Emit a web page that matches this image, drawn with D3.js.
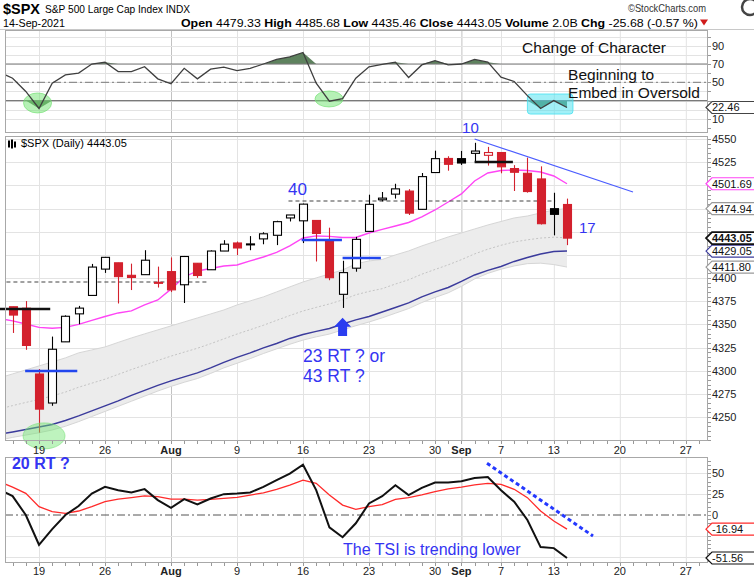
<!DOCTYPE html>
<html><head><meta charset="utf-8">
<script src="https://cdn.jsdelivr.net/npm/d3@7"></script>
<style>body{margin:0;background:#fff} svg{display:block} text{font-family:"Liberation Sans",Arial,sans-serif}</style>
</head><body><svg id="c" width="754" height="577"></svg>
<script>
// ---------------- DATA ----------------
const dates = ["2021-07-14","2021-07-15","2021-07-16","2021-07-19","2021-07-20","2021-07-21","2021-07-22","2021-07-23","2021-07-26","2021-07-27","2021-07-28","2021-07-29","2021-07-30","2021-08-02","2021-08-03","2021-08-04","2021-08-05","2021-08-06","2021-08-09","2021-08-10","2021-08-11","2021-08-12","2021-08-13","2021-08-16","2021-08-17","2021-08-18","2021-08-19","2021-08-20","2021-08-23","2021-08-24","2021-08-25","2021-08-26","2021-08-27","2021-08-30","2021-08-31","2021-09-01","2021-09-02","2021-09-03","2021-09-07","2021-09-08","2021-09-09","2021-09-10","2021-09-13","2021-09-14"];
const openP  = [4380.1,4369.0,4367.4,4296.4,4265.1,4331.1,4361.3,4381.2,4409.6,4416.4,4402.9,4403.6,4395.1,4406.9,4392.7,4415.9,4408.9,4429.1,4437.8,4435.8,4442.2,4446.1,4464.8,4461.7,4462.1,4440.9,4382.4,4410.6,4450.3,4484.4,4490.5,4493.8,4474.1,4513.8,4529.0,4528.8,4534.5,4532.4,4535.4,4518.1,4513.0,4506.9,4474.8,4479.33];
const highP  = [4383.1,4369.0,4375.1,4301.8,4336.8,4359.7,4369.9,4415.2,4422.7,4416.4,4415.5,4430.0,4412.3,4422.2,4423.8,4416.2,4429.8,4440.8,4439.4,4445.2,4449.4,4461.8,4468.0,4480.3,4462.1,4454.3,4418.6,4444.4,4489.9,4492.8,4501.7,4495.9,4513.3,4537.4,4531.4,4537.1,4545.9,4541.5,4535.4,4521.8,4529.9,4520.5,4492.0,4485.68];
const lowP   = [4356.2,4340.7,4322.5,4233.1,4262.1,4331.1,4350.1,4381.2,4405.5,4372.5,4387.0,4403.6,4389.7,4384.8,4373.0,4400.2,4408.9,4429.1,4424.7,4430.0,4436.4,4435.5,4461.0,4437.7,4417.8,4397.6,4367.7,4406.8,4450.3,4482.7,4485.7,4468.0,4474.1,4513.8,4515.8,4522.0,4524.7,4521.3,4513.0,4493.9,4492.1,4457.7,4446.0,4435.46];
const closeP = [4374.3,4360.0,4327.2,4258.5,4323.1,4358.7,4367.5,4411.8,4422.3,4401.5,4400.6,4419.2,4395.3,4387.2,4423.2,4402.7,4429.1,4436.5,4432.4,4436.8,4447.7,4460.8,4468.0,4479.7,4448.1,4400.3,4405.8,4441.7,4479.5,4486.2,4496.2,4470.0,4509.4,4528.8,4522.7,4524.1,4537.0,4535.4,4520.0,4514.1,4493.3,4458.6,4468.7,4443.05];
const pinkMA    = [4356.4,4353.7,4350.4,4346.7,4345.8,4346.7,4349.9,4354.2,4358.5,4362.3,4364.5,4370.9,4376.3,4388.0,4401.1,4407.6,4410.3,4413.0,4414.1,4418.4,4422.7,4427.6,4434.6,4443.2,4445.4,4444.9,4443.7,4443.7,4448.6,4452.4,4456.1,4459.9,4465.9,4473.4,4482.0,4490.7,4504.7,4513.3,4516.0,4516.6,4516.0,4514.4,4510.1,4501.69];
const bandUpper = [4292.2,4296.5,4300.8,4305.1,4309.4,4313.8,4319.2,4322.4,4325.6,4330.5,4335.3,4339.7,4344.0,4348.3,4352.6,4356.9,4361.2,4365.5,4370.9,4375.3,4379.6,4385.0,4390.4,4395.7,4400.1,4404.4,4408.7,4415.2,4418.4,4420.0,4424.9,4429.2,4434.6,4439.4,4444.3,4448.6,4452.9,4457.2,4461.0,4464.8,4466.9,4470.2,4473.4,4474.94];
const bandMid   = [4258.6,4262.3,4265.7,4269.0,4272.7,4276.9,4282.1,4286.5,4290.8,4296.0,4301.2,4306.1,4311.0,4315.7,4320.0,4324.2,4329.1,4334.3,4339.5,4344.2,4349.0,4354.3,4359.5,4364.4,4368.3,4372.0,4376.4,4381.9,4385.5,4388.5,4393.5,4398.1,4404.1,4409.2,4414.2,4419.8,4426.0,4431.1,4435.3,4438.9,4441.2,4443.1,4444.0,4443.4];
const bandLower = [4225.0,4228.0,4230.5,4233.0,4236.0,4240.0,4245.0,4250.5,4256.0,4261.5,4267.0,4272.5,4278.0,4283.0,4287.5,4291.5,4297.0,4303.0,4308.0,4313.0,4318.5,4323.5,4328.5,4333.0,4336.5,4339.5,4344.0,4348.5,4352.5,4357.0,4362.0,4367.0,4373.5,4379.0,4384.0,4391.0,4399.0,4405.0,4409.5,4413.0,4415.5,4416.0,4414.5,4411.80];
const navyMA    = [4231.2,4233.9,4236.6,4239.3,4242.0,4246.3,4251.2,4256.6,4262.0,4267.4,4273.3,4278.7,4284.1,4289.0,4293.3,4297.6,4303.0,4308.9,4314.3,4319.2,4324.6,4329.4,4334.8,4339.1,4342.4,4345.6,4350.4,4354.8,4358.5,4363.4,4368.2,4373.1,4379.6,4385.0,4389.8,4396.3,4403.3,4408.2,4412.5,4417.9,4422.2,4426.0,4428.6,4429.05];
const rsiVals   = [61,54.5,40,21.4,49,58,60,70,72,61.7,61.7,67,53.8,48.4,65.3,53.8,64.3,66.5,62.8,65.3,70,75,77.9,82.6,49,29.3,32.2,54.5,67,69.7,72,55.2,69,73.6,69,70,75,72,55.6,50.9,35.4,21.4,30,22.46];
const tsiVals   = [30.5,22.6,0,-35.7,-17,0,10.7,25.8,33.7,29.8,27,31,17.9,8.7,19,12.7,19.8,25,25.8,27,33.7,41.7,49.6,60.3,29.8,-14.7,-26.6,-9.9,13.9,22.6,35.7,23.8,32.5,38.9,38.9,40.5,44.4,45.6,29.8,15.9,-6,-38.5,-39.7,-51.56];
const tsiSignal = [40,33.5,26,10,4,2,4.8,10,16,19,20.8,22.9,22,19,19,17.9,18.8,20,21.2,23.9,26.6,30.6,35.8,41.8,38,23.9,11.9,6.8,10,12.5,18.8,20.8,24,28,31.2,33.3,36,38,36.8,30.8,20.8,4.8,-7.2,-16.94];

const xTickIdx    = [0,5,10,15,20,25,30,32,35,39,44,49];
const xTickLabels = ["19","26","Aug","9","16","23","30","Sep","7","13","20","27"];
const monthTicks  = ["Aug","Sep"];
const priceTicks  = [4250,4275,4300,4325,4350,4375,4400,4425,4450,4475,4500,4525,4550];
const rsiTicks    = [90,70,50,30,10];
const tsiTicks    = [50,25,0,-25,-50];

// ---------------- SETUP ----------------
const svg = d3.select("#c");
const L = 5, R = 708;
const P = {rsi:[30,133], main:[136,441], tsi:[457,563]};
const idxOf = k => k - 3;
const N = dates.length;
const x  = d3.scaleLinear().domain([0,49]).range([39,685.8]);
const yR = d3.scaleLinear().domain([10,90]).range([118.9,45.7]);
const yP = d3.scaleLinear().domain([4250,4550]).range([417,139]);
const yT = d3.scaleLinear().domain([-50,50]).range([556.7,473.3]);
const BLUE = "#3434f2";

const defs = svg.append("defs");
Object.entries(P).forEach(([k,[t,b]])=>{
  defs.append("clipPath").attr("id","clip-"+k).append("rect").attr("x",L).attr("y",t).attr("width",R-L).attr("height",b-t);
});

// header
const hdr = svg.append("g");
hdr.append("text").attr("x",3).attr("y",13.5).attr("font-size",15).attr("font-weight","bold")
  .attr("textLength",37).attr("lengthAdjust","spacingAndGlyphs").text("$SPX");
hdr.append("text").attr("x",45).attr("y",13).attr("font-size",11).attr("textLength",145).attr("lengthAdjust","spacingAndGlyphs").text("S&P 500 Large Cap Index INDX");
hdr.append("text").attr("x",3).attr("y",27).attr("font-size",11).attr("textLength",62).attr("lengthAdjust","spacingAndGlyphs").text("14-Sep-2021");
hdr.append("text").attr("x",628).attr("y",12).attr("font-size",11).attr("fill","#333").attr("textLength",78).attr("lengthAdjust","spacingAndGlyphs").text("\u00A9StockCharts.com");
const st = hdr.append("text").attr("x",181).attr("y",26.5).attr("font-size",11).attr("textLength",517).attr("lengthAdjust","spacingAndGlyphs");
[["Open",1],[" 4479.33 ",0],["High",1],[" 4485.68 ",0],["Low",1],[" 4435.46 ",0],["Close",1],[" 4443.05 ",0],["Volume",1],[" 2.0B ",0],["Chg",1],[" -25.68 (-0.57 %)",0]]
  .forEach(([t,b])=>st.append("tspan").attr("font-weight",b?"bold":"normal").text(t));
hdr.append("path").attr("d","M700,19.5L708,19.5L704,25.5Z").attr("fill","#d01c1c");
hdr.append("circle").attr("cx",750).attr("cy",7).attr("r",8).attr("fill","none").attr("stroke","#444").attr("stroke-width",2.5);
svg.append("line").attr("x1",0).attr("x2",754).attr("y1",29.5).attr("y2",29.5).attr("stroke","#c8c8c8");

// panels, grids
function panelFrame(key, yScale, hTicks){
  const [t,b] = P[key];
  const g = svg.append("g");
  g.append("rect").attr("x",L).attr("y",t).attr("width",R-L).attr("height",b-t).attr("fill","#fff");
  g.selectAll("line.v").data(xTickIdx).join("line")
    .attr("x1",d=>x(d)+0.5).attr("x2",d=>x(d)+0.5).attr("y1",t).attr("y2",b)
    .attr("stroke",(d,i)=>monthTicks.includes(xTickLabels[i])?"#c2c2c2":"#e3e3e3");
  g.selectAll("line.h").data(hTicks).join("line")
    .attr("x1",L).attr("x2",R).attr("y1",d=>Math.round(yScale(d))+0.5).attr("y2",d=>Math.round(yScale(d))+0.5)
    .attr("stroke","#e3e3e3");
  return g;
}
panelFrame("rsi", yR, [10,20,30,40,50,60,70,80,90,100]);
panelFrame("main", yP, d3.range(4225,4560,25));
panelFrame("tsi", yT, [50,25,-25,-50]);

// ---------------- RSI PANEL ----------------
const gR = svg.append("g").attr("clip-path","url(#clip-rsi)");
const rsiPts = rsiVals.map((v,k)=>({i:idxOf(k),v}));
gR.append("path").datum(rsiPts).attr("fill","#5e825e")
  .attr("d",d3.area().x(d=>x(d.i)).y0(yR(70)).y1(d=>yR(Math.max(70,d.v))));
gR.append("path").datum(rsiPts).attr("fill","#5e825e")
  .attr("d",d3.area().x(d=>x(d.i)).y0(yR(30)).y1(d=>yR(Math.min(30,d.v))));
[70,30].forEach(v=>gR.append("line").attr("x1",L).attr("x2",R).attr("y1",yR(v)).attr("y2",yR(v)).attr("stroke","#7a7a7a").attr("stroke-width",1.2));
gR.append("line").attr("x1",L).attr("x2",R).attr("y1",yR(50)).attr("y2",yR(50)).attr("stroke","#7a7a7a").attr("stroke-dasharray","8,3,2,3");
const rsiEll = [{i:-0.11,v:27.4,rx:14,ry:10},{i:21.97,v:31.8,rx:14,ry:8}];
gR.selectAll("ellipse").data(rsiEll).join("ellipse").attr("cx",d=>x(d.i)).attr("cy",d=>yR(d.v)).attr("rx",d=>d.rx).attr("ry",d=>d.ry)
  .attr("fill","rgba(110,228,110,0.5)").attr("stroke","rgba(120,225,120,0.7)");
const rsiBox = {i0:37.0,i1:40.45,v0:37.2,v1:15.3};
gR.append("rect").attr("x",x(rsiBox.i0)).attr("y",yR(rsiBox.v0)).attr("width",x(rsiBox.i1)-x(rsiBox.i0)).attr("height",yR(rsiBox.v1)-yR(rsiBox.v0))
  .attr("rx",3).attr("fill","rgba(70,225,240,0.5)").attr("stroke","rgba(70,225,240,0.8)");
gR.append("path").datum(rsiPts).attr("fill","none").attr("stroke","#3f3f3f").attr("stroke-width",1.3)
  .attr("d",d3.line().x(d=>x(d.i)).y(d=>yR(d.v)));

// ---------------- MAIN PANEL ----------------
const gM = svg.append("g").attr("clip-path","url(#clip-main)");
const pts = dates.map((d,k)=>({i:idxOf(k),o:openP[k],h:highP[k],l:lowP[k],c:closeP[k],pc:k>0?closeP[k-1]:openP[k],
  up:bandUpper[k],mid:bandMid[k],lo:bandLower[k],pink:pinkMA[k],navy:navyMA[k]}));
gM.append("path").datum(pts).attr("fill","#ececec").attr("stroke","none")
  .attr("d",d3.area().x(d=>x(d.i)).y0(d=>yP(d.lo)).y1(d=>yP(d.up)));
gM.append("path").datum(pts).attr("fill","none").attr("stroke","#d6d6d6").attr("d",d3.line().x(d=>x(d.i)).y(d=>yP(d.up)));
gM.append("path").datum(pts).attr("fill","none").attr("stroke","#d6d6d6").attr("d",d3.line().x(d=>x(d.i)).y(d=>yP(d.lo)));
gM.append("path").datum(pts).attr("fill","none").attr("stroke","#c4c4c4").attr("stroke-dasharray","2,2").attr("d",d3.line().x(d=>x(d.i)).y(d=>yP(d.mid)));
gM.append("path").datum(pts).attr("fill","none").attr("stroke","#3b3b9c").attr("stroke-width",1.5).attr("d",d3.line().x(d=>x(d.i)).y(d=>yP(d.navy)));
gM.append("path").datum(pts).attr("fill","none").attr("stroke","#ff45f5").attr("stroke-width",1.4).attr("d",d3.line().x(d=>x(d.i)).y(d=>yP(d.pink)));

const dashedLevels = [{i0:-3,i1:12.7,p:4395.7},{i0:18.9,i1:39.1,p:4483.1}];
gM.selectAll("line.dl").data(dashedLevels).join("line").attr("x1",d=>x(d.i0)).attr("x2",d=>x(d.i1)).attr("y1",d=>yP(d.p)).attr("y2",d=>yP(d.p))
  .attr("stroke","#444").attr("stroke-width",1.1).attr("stroke-dasharray","4,3");
const levelLines = [{i0:-3.2,i1:0.85,p:4366.6,c:"#111"},{i0:-1.05,i1:2.9,p:4299.7,c:"#2246ee"},{i0:19.9,i1:22.95,p:4441,c:"#2246ee"},{i0:23.0,i1:25.9,p:4421.6,c:"#2246ee"},{i0:33.0,i1:35.9,p:4525.2,c:"#111"}];
svg.selectAll("line.lv").data(levelLines).join("line").attr("x1",d=>x(d.i0)).attr("x2",d=>x(d.i1)).attr("y1",d=>yP(d.p)).attr("y2",d=>yP(d.p))
  .attr("stroke",d=>d.c).attr("stroke-width",2.4);

const cw = 8;
const col = d => d.c < d.pc ? "#d3212d" : "#000";
const cg = gM.selectAll("g.cdl").data(pts).join("g");
cg.append("line").attr("x1",d=>Math.round(x(d.i))+0.5).attr("x2",d=>Math.round(x(d.i))+0.5).attr("y1",d=>yP(d.h)).attr("y2",d=>yP(d.l)).attr("stroke",col).attr("stroke-width",1.1);
cg.append("rect").attr("x",d=>Math.round(x(d.i))-cw/2+0.5).attr("width",cw)
  .attr("y",d=>yP(Math.max(d.o,d.c))).attr("height",d=>Math.max(1,Math.abs(yP(d.o)-yP(d.c))))
  .attr("fill",d=>d.c<d.o?col(d):"#fff").attr("stroke",col).attr("stroke-width",1.1);

const trend = [{i:33,p:4550},{i:45,p:4492.8}];
svg.append("line").attr("x1",x(trend[0].i)).attr("y1",yP(trend[0].p)).attr("x2",x(trend[1].i)).attr("y2",yP(trend[1].p)).attr("stroke","#4a5cff").attr("stroke-width",1.2);

const arrow = {i:23, pTop:4357, pBot:4337.5};
{
  const ax = x(arrow.i), at = yP(arrow.pTop), ab = yP(arrow.pBot);
  svg.append("path").attr("d",`M${ax},${at}L${ax+8.5},${at+9}L${ax+4.5},${at+9}L${ax+4.5},${ab}L${ax-4.5},${ab}L${ax-4.5},${at+9}L${ax-8.5},${at+9}Z`).attr("fill","#2a3df0");
}
const mainEll = {i:0.38,p:4229.6,rx:21,ry:13};
svg.append("ellipse").attr("cx",x(mainEll.i)).attr("cy",yP(mainEll.p)).attr("rx",mainEll.rx).attr("ry",mainEll.ry)
  .attr("fill","rgba(110,228,110,0.45)").attr("stroke","rgba(120,225,120,0.6)");

{
  const lg = svg.append("g");
  [[9,141,147],[12,140,148],[15,142,147]].forEach(([xx,a,b])=>{
    lg.append("line").attr("x1",xx).attr("x2",xx).attr("y1",a-1).attr("y2",b+1).attr("stroke","#000");
    lg.append("rect").attr("x",xx-1).attr("y",a).attr("width",2).attr("height",b-a).attr("fill","#000");
  });
  lg.append("text").attr("x",21).attr("y",147).attr("font-size",11).attr("font-family","DejaVu Sans").text("$SPX (Daily) 4443.05");
}

// ---------------- TSI PANEL ----------------
const gT = svg.append("g").attr("clip-path","url(#clip-tsi)");
gT.append("line").attr("x1",L).attr("x2",R).attr("y1",yT(0)).attr("y2",yT(0)).attr("stroke","#555").attr("stroke-dasharray","8,3,2,3");
const tPts = tsiVals.map((v,k)=>({i:idxOf(k),v,s:tsiSignal[k]}));
gT.append("path").datum(tPts).attr("fill","none").attr("stroke","#ff2a2a").attr("stroke-width",1.3).attr("d",d3.line().x(d=>x(d.i)).y(d=>yT(d.s)));
gT.append("path").datum(tPts).attr("fill","none").attr("stroke","#111").attr("stroke-width",2).attr("d",d3.line().x(d=>x(d.i)).y(d=>yT(d.v)));
const tsiTrend = [{i:33.94,v:62},{i:41.97,v:-25.2}];
gT.append("line").attr("x1",x(tsiTrend[0].i)).attr("y1",yT(tsiTrend[0].v)).attr("x2",x(tsiTrend[1].i)).attr("y2",yT(tsiTrend[1].v))
  .attr("stroke","#2438ff").attr("stroke-width",3).attr("stroke-dasharray","4,3");

Object.values(P).forEach(([t,b])=>svg.append("rect").attr("x",L+0.5).attr("y",t+0.5).attr("width",R-L-1).attr("height",b-t-1).attr("fill","none").attr("stroke","#a8a8a8"));

// ---------------- AXES ----------------
const last = N-1;
const tagsR = [{v:rsiVals[last],c:"#444"}];
const tagsP = [{v:pinkMA[last],c:"#ff45f5"},{v:bandUpper[last],c:"#999"},{v:bandLower[last],c:"#999"},{v:navyMA[last],c:"#3b3b9c"},{v:closeP[last],c:"#111",b:1}];
const tagsT = [{v:tsiSignal[last],c:"#ff2a2a"},{v:tsiVals[last],c:"#111"}];

function rightAxis(scale, ticks, minorStep, range, tags){
  const g = svg.append("g");
  const vis = ticks.filter(t=>tags.every(tg=>Math.abs(scale(t)-scale(tg.v))>=10));
  g.selectAll("text").data(vis).join("text").attr("x",712).attr("y",d=>scale(d)+4).attr("font-size",11).attr("fill","#222").text(d=>d);
  g.selectAll("line").data(d3.range(range[0],range[1]+0.001,minorStep)).join("line")
    .attr("x1",R).attr("x2",R+3).attr("y1",d=>Math.round(scale(d))+0.5).attr("y2",d=>Math.round(scale(d))+0.5).attr("stroke","#999");
}
rightAxis(yR, rsiTicks, 10, [0,100], tagsR);
rightAxis(yP, priceTicks, 5, [4225,4550], tagsP);
rightAxis(yT, tsiTicks, 5, [-55,65], tagsT);

function xAxis(yb, base){
  const g = svg.append("g");
  g.selectAll("line").data(d3.range(-2,51)).join("line").attr("x1",d=>Math.round(x(d))+0.5).attr("x2",d=>Math.round(x(d))+0.5)
    .attr("y1",yb).attr("y2",yb+3).attr("stroke","#999");
  g.selectAll("text").data(xTickIdx).join("text").attr("x",d=>x(d)).attr("y",base).attr("text-anchor","middle").attr("font-size",11)
    .attr("font-weight",(d,i)=>monthTicks.includes(xTickLabels[i])?"bold":"normal").attr("fill","#222").text((d,i)=>xTickLabels[i]);
}
xAxis(P.main[1], 454);
xAxis(P.tsi[1], 575);

function tags(scale, list){
  list.forEach(tg=>{
    const y = scale(tg.v);
    const g = svg.append("g");
    g.append("path").attr("d",`M706,${y}L712,${y-6}L760,${y-6}L760,${y+6}L712,${y+6}Z`).attr("fill","#fff").attr("stroke",tg.c).attr("stroke-width",tg.b?1.8:1.2);
    g.append("text").attr("x",712).attr("y",y+4).attr("font-size",11).attr("font-weight",tg.b?"bold":"normal").attr("fill","#111").text(tg.v.toFixed(2));
  });
}
tags(yR, tagsR);
tags(yP, tagsP.filter(t=>!t.b));
tags(yP, tagsP.filter(t=>t.b));
tags(yT, tagsT);

// ---------------- TEXT NOTES ----------------
const notes = [
  {t:"Change of Character", i:36.6, s:"rsi", v:82, fs:15.5, c:"#111"},
  {t:"Beginning to", i:40.08, s:"rsi", v:52.5, fs:15.5, c:"#111"},
  {t:"Embed in Oversold", i:40.08, s:"rsi", v:32.8, fs:15.5, c:"#111"},
  {t:"40", i:18.86, s:"main", v:4490, fs:17, c:BLUE},
  {t:"10", i:32.05, s:"main", v:4557, fs:15, c:BLUE},
  {t:"17", i:40.9, s:"main", v:4449, fs:15, c:BLUE},
  {t:"23 RT ? or", i:20.0, s:"main", v:4309.4, fs:17.5, c:BLUE},
  {t:"43 RT ?", i:20.0, s:"main", v:4287.9, fs:17.5, c:BLUE},
  {t:"20 RT ?", i:-2.05, s:"tsi", v:54.6, fs:16, c:BLUE, b:1},
  {t:"The TSI is trending lower", i:23.03, s:"tsi", v:-47.4, fs:16, c:BLUE}
];
const sc = {rsi:yR, main:yP, tsi:yT};
svg.selectAll("text.note").data(notes).join("text").attr("x",d=>x(d.i)).attr("y",d=>sc[d.s](d.v)).attr("font-size",d=>d.fs)
  .attr("font-weight",d=>d.b?"bold":"normal").attr("fill",d=>d.c).text(d=>d.t);
</script></body></html>
